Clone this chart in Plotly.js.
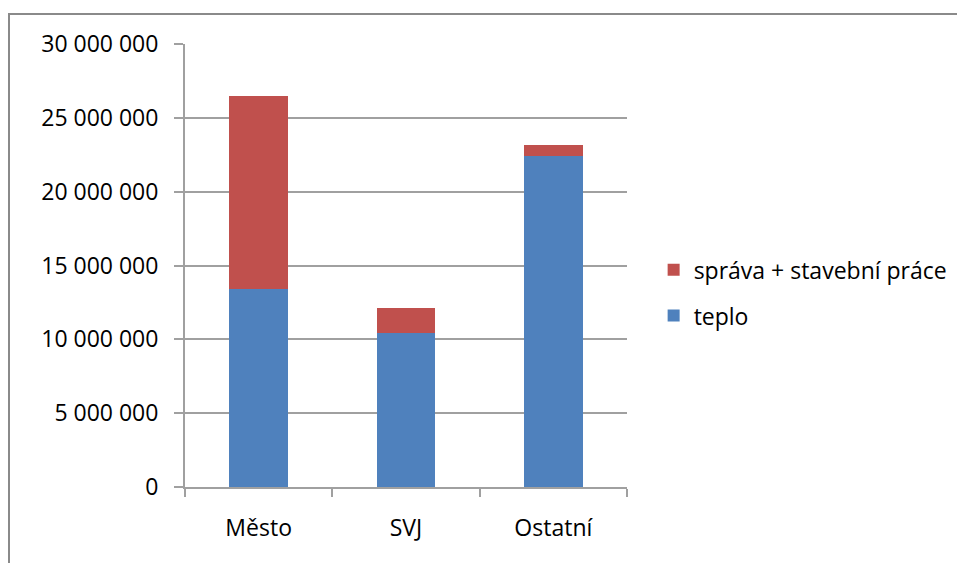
<!DOCTYPE html>
<html>
<head>
<meta charset="utf-8">
<script src="https://cdn.plot.ly/plotly-3.0.1.min.js"></script>
<style>
  html, body { margin: 0; padding: 0; background: #fff; overflow: hidden; }
  #chart { width: 957px; height: 563px; position: absolute; left: 0; top: 0; }
  #frame { position: absolute; left: 8px; top: 13px; width: 1000px; height: 600px;
           border-left: 2px solid #8a8a8a; border-top: 2px solid #8a8a8a; pointer-events: none; }
</style>
</head>
<body>
<div id="chart"></div>
<div id="frame"></div>
<script>
const categories = ["Město", "SVJ", "Ostatní"];
const teplo = [13390000, 10410000, 22390000];
const sprava = [13100000, 1690000, 750000];
const seriesNames = ["teplo", "správa + stavební práce"];
const yTicks = [0, 5000000, 10000000, 15000000, 20000000, 25000000, 30000000];

const fontFamily = "'Open Sans', 'Noto Sans', sans-serif";

const traces = [
  { type: "bar", name: seriesNames[0], x: categories, y: teplo,
    marker: { color: "#4F81BD" }, legendgroup: "b", legendrank: 2, hoverinfo: "skip" },
  { type: "bar", name: seriesNames[1], x: categories, y: sprava,
    marker: { color: "#C0504D" }, legendgroup: "a", legendrank: 1, hoverinfo: "skip" }
];

const layout = {
  width: 957, height: 563,
  margin: { l: 185, r: 330, t: 44, b: 76 },
  barmode: "stack",
  bargap: 0.6,
  separators: ". ",
  paper_bgcolor: "#fff", plot_bgcolor: "#fff",
  font: { family: fontFamily, size: 23, color: "#000" },
  showlegend: true,
  legend: {
    traceorder: "grouped",
    xref: "container", yref: "container",
    x: 0.683, y: 0.48, xanchor: "left", yanchor: "middle",
    tracegroupgap: 13,
    font: { family: fontFamily, size: 23, color: "#000" },
    itemwidth: 30
  },
  xaxis: {
    type: "category",
    showline: true, linecolor: "#a0a0a0", linewidth: 2,
    ticks: "outside", tickson: "boundaries", ticklen: 8, tickcolor: "#a0a0a0", tickwidth: 2,
    showgrid: false, zeroline: false,
    ticklabelstandoff: 19,
    tickfont: { family: fontFamily, size: 23, color: "#000" }
  },
  yaxis: {
    range: [0, 30000000],
    tickvals: yTicks,
    tickformat: ",d",
    showline: true, linecolor: "#a0a0a0", linewidth: 2,
    ticks: "outside", ticklen: 9, tickcolor: "#a0a0a0", tickwidth: 2,
    showgrid: true, gridcolor: "#a0a0a0", gridwidth: 2,
    zeroline: false,
    ticklabelstandoff: 11,
    tickfont: { family: fontFamily, size: 23, color: "#000" }
  }
};

Plotly.newPlot("chart", traces, layout, { staticPlot: true, displayModeBar: false });
</script>
</body>
</html>
